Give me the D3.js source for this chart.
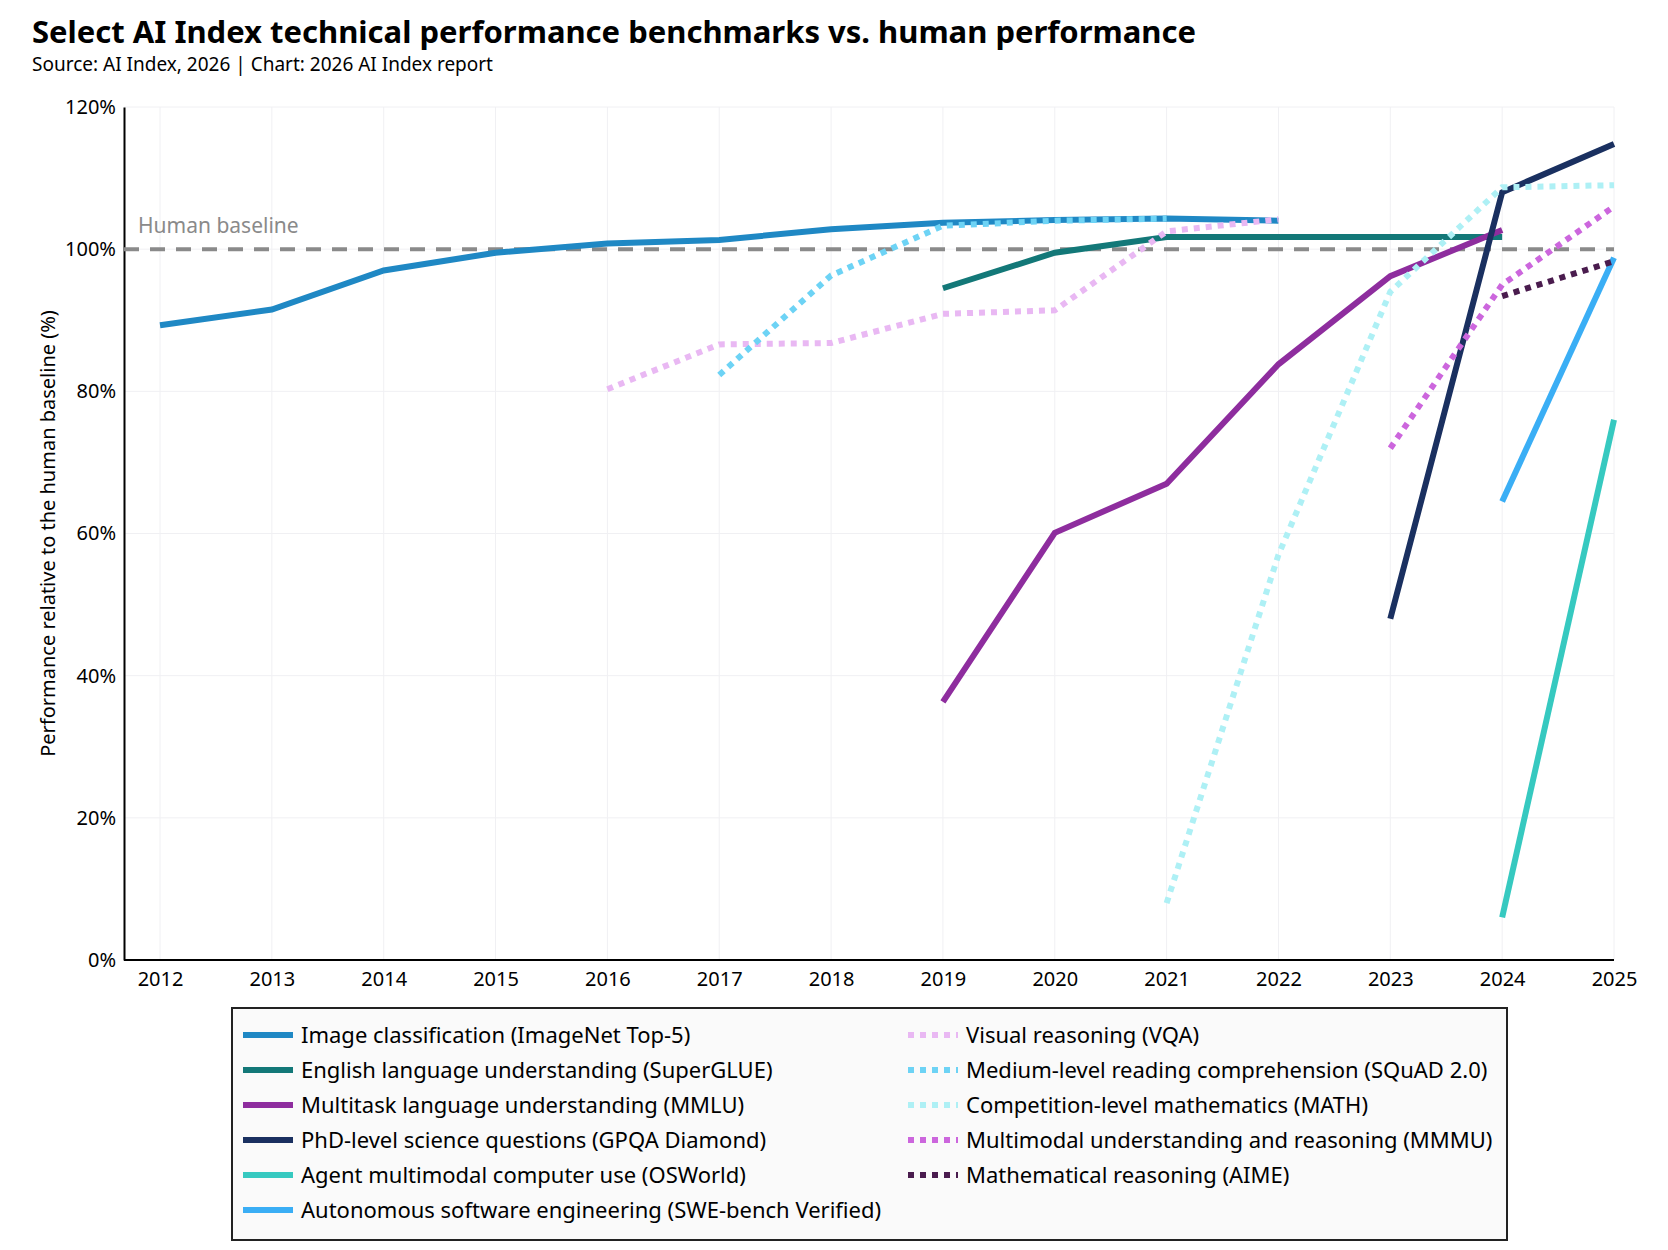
<!DOCTYPE html>
<html>
<head>
<meta charset="utf-8">
<script src="https://cdnjs.cloudflare.com/ajax/libs/d3/7.8.5/d3.min.js"></script>
<style>
  body { margin: 0; background: #fff; font-family: "Noto Sans", sans-serif; }
  svg text { font-family: "Noto Sans", sans-serif; }
</style>
</head>
<body>
<svg id="chart" width="1668" height="1250"></svg>
<script>
var years = [2012, 2013, 2014, 2015, 2016, 2017, 2018, 2019, 2020, 2021, 2022, 2023, 2024, 2025];
var yTicks = [0, 20, 40, 60, 80, 100, 120];

// [year, value] pairs per benchmark
var imagenet = [[2012, 89.3], [2013, 91.5], [2014, 97], [2015, 99.5], [2016, 100.8], [2017, 101.3], [2018, 102.8], [2019, 103.7], [2020, 104.1], [2021, 104.3], [2022, 104]];
var superglue = [[2019, 94.5], [2020, 99.5], [2021, 101.7], [2022, 101.7], [2023, 101.7], [2024, 101.7]];
var mmlu = [[2019, 36.3], [2020, 60.1], [2021, 67], [2022, 83.8], [2023, 96.2], [2024, 102.7]];
var gpqa = [[2023, 48], [2024, 108], [2025, 114.8]];
var osworld = [[2024, 6], [2025, 76]];
var swebench = [[2024, 64.5], [2025, 98.8]];
var vqa = [[2016, 80.3], [2017, 86.6], [2018, 86.8], [2019, 90.9], [2020, 91.4], [2021, 102.5], [2022, 104.2]];
var squad = [[2017, 82.3], [2018, 96.3], [2019, 103.3], [2020, 104], [2021, 104.3]];
var math = [[2021, 8], [2022, 57], [2023, 94], [2024, 108.7], [2025, 109]];
var mmmu = [[2023, 72], [2024, 95], [2025, 106]];
var aime = [[2024, 93.4], [2025, 98.3]];

var series = [
  { name: 'Image classification (ImageNet Top-5)', data: imagenet, color: '#1f88c4', dotted: false },
  { name: 'English language understanding (SuperGLUE)', data: superglue, color: '#137878', dotted: false },
  { name: 'Multitask language understanding (MMLU)', data: mmlu, color: '#8e2d9e', dotted: false },
  { name: 'PhD-level science questions (GPQA Diamond)', data: gpqa, color: '#1a3060', dotted: false },
  { name: 'Agent multimodal computer use (OSWorld)', data: osworld, color: '#36c9c0', dotted: false },
  { name: 'Autonomous software engineering (SWE-bench Verified)', data: swebench, color: '#3aaef5', dotted: false },
  { name: 'Visual reasoning (VQA)', data: vqa, color: '#e9b8f3', dotted: true },
  { name: 'Medium-level reading comprehension (SQuAD 2.0)', data: squad, color: '#6dd3f5', dotted: true },
  { name: 'Competition-level mathematics (MATH)', data: math, color: '#aef0f5', dotted: true },
  { name: 'Multimodal understanding and reasoning (MMMU)', data: mmmu, color: '#cc66dd', dotted: true },
  { name: 'Mathematical reasoning (AIME)', data: aime, color: '#4a1c4e', dotted: true }
];

var svg = d3.select('#chart');

svg.append('text').attr('x', 32).attr('y', 43)
  .style('font-size', '31px').style('font-weight', 700).text('Select AI Index technical performance benchmarks vs. human performance');
svg.append('text').attr('x', 32).attr('y', 71)
  .style('font-size', '19px').text('Source: AI Index, 2026 | Chart: 2026 AI Index report');

var x = d3.scaleLinear().domain([2012, 2025]).range([160, 1614]);
var y = d3.scaleLinear().domain([0, 120]).range([960, 107]);

// gridlines
svg.append('g').selectAll('line').data(years).enter().append('line')
  .attr('x1', d => x(d)).attr('x2', d => x(d)).attr('y1', y(120)).attr('y2', y(0))
  .attr('stroke', '#f0f0f3');
svg.append('g').selectAll('line').data(yTicks).enter().append('line')
  .attr('x1', 124).attr('x2', x(2025)).attr('y1', d => y(d)).attr('y2', d => y(d))
  .attr('stroke', '#f0f0f3');

// axes
var xAxis = svg.append('g').attr('transform', 'translate(0,' + y(0) + ')')
  .call(d3.axisBottom(x).tickValues(years).tickFormat(d3.format('d')).tickSize(0).tickPadding(12));
xAxis.select('.domain').attr('d', 'M124,0H' + x(2025)).attr('stroke', '#000').attr('stroke-width', 2);
xAxis.selectAll('text').style('font-size', '20px').style('font-family', '"Noto Sans", sans-serif');

var yAxis = svg.append('g').attr('transform', 'translate(124,0)')
  .call(d3.axisLeft(y).tickValues(yTicks).tickFormat(d => d + '%').tickSize(0).tickPadding(8));
yAxis.select('.domain').attr('stroke', '#000').attr('stroke-width', 2);
yAxis.selectAll('text').style('font-size', '20px').style('font-family', '"Noto Sans", sans-serif');

svg.append('text')
  .attr('transform', 'translate(55,' + ((y(0) + y(120)) / 2) + ') rotate(-90)')
  .attr('text-anchor', 'middle').style('font-size', '20px')
  .text('Performance relative to the human baseline (%)');

// human baseline
svg.append('line').attr('x1', 124).attr('x2', x(2025)).attr('y1', y(100)).attr('y2', y(100))
  .attr('stroke', '#8a8a8a').attr('stroke-width', 4).attr('stroke-dasharray', '15,11');
svg.append('text').attr('x', 138).attr('y', y(100) - 16)
  .attr('fill', '#8a8a8a').style('font-size', '21px').text('Human baseline');

var line = d3.line().x(d => x(d[0])).y(d => y(d[1]));

series.forEach(function (s) {
  svg.append('path').datum(s.data).attr('d', line)
    .attr('fill', 'none').attr('stroke', s.color).attr('stroke-width', 6)
    .attr('stroke-dasharray', s.dotted ? '6,6' : null);
});

// legend
var lg = svg.append('g');
lg.append('rect').attr('x', 232).attr('y', 1008).attr('width', 1275).attr('height', 232)
  .attr('fill', '#fafafa').attr('stroke', '#222').attr('stroke-width', 2);
series.forEach(function (s, i) {
  var col = s.dotted ? 1 : 0;
  var row = s.dotted ? i - 6 : i;
  var lx = col ? 908 : 243;
  var ly = 1035 + row * 35;
  lg.append('line').attr('x1', lx).attr('x2', lx + 50).attr('y1', ly).attr('y2', ly)
    .attr('stroke', s.color).attr('stroke-width', 6).attr('stroke-dasharray', s.dotted ? '6,6' : null);
  lg.append('text').attr('x', lx + 58).attr('y', ly + 8).style('font-size', '22px').text(s.name);
});
</script>
</body>
</html>
